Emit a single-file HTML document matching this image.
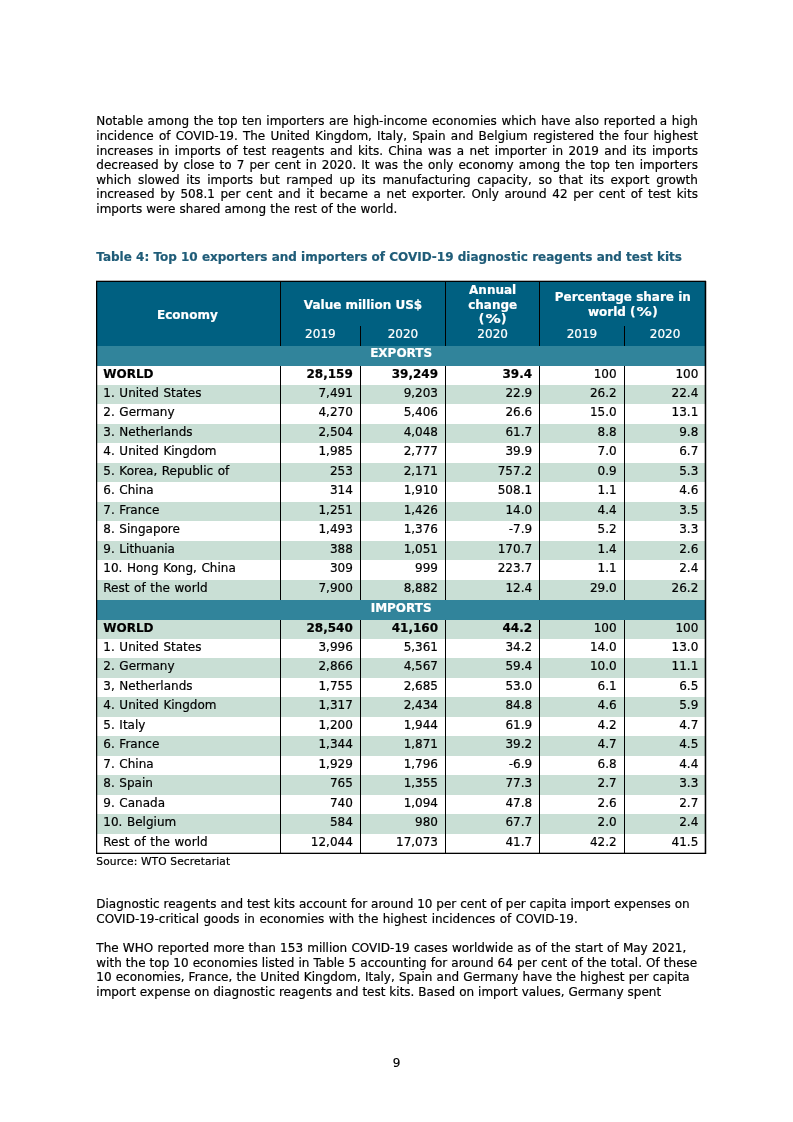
<!DOCTYPE html>
<html lang="en">
<head>
<meta charset="utf-8">
<title>Table 4: Top 10 exporters and importers of COVID-19 diagnostic reagents and test kits</title>
<style>
html,body{margin:0;padding:0;background:#fff;}
body{width:793px;height:1122px;position:relative;overflow:hidden;-webkit-text-stroke:0.2px;font-family:"DejaVu Sans", "Liberation Sans", sans-serif;font-size:12px;color:#000;}
.l{position:absolute;white-space:nowrap;line-height:14px;height:14px;text-align:justify;text-align-last:justify;}
.t{position:absolute;white-space:nowrap;line-height:14px;height:14px;}
.b{font-weight:bold;}
.r{text-align:right;}
.c{text-align:center;}
.w{color:#fff;}
.pc{display:inline-block;transform:scaleX(1.27);margin:0 2.3px;}
.bg{position:absolute;}
.vl{position:absolute;background:#000;}

</style>
</head>
<body>
<div class="para">
<div class="l" style="left:96.30px;top:114.00px;width:601.60px;">Notable among the top ten importers are high-income economies which have also reported a high</div>
<div class="l" style="left:96.30px;top:129.00px;width:601.60px;">incidence of COVID-19. The United Kingdom, Italy, Spain and Belgium registered the four highest</div>
<div class="l" style="left:96.30px;top:144.00px;width:601.60px;">increases in imports of test reagents and kits. China was a net importer in 2019 and its imports</div>
<div class="l" style="left:96.30px;top:158.00px;width:601.60px;">decreased by close to 7 per cent in 2020. It was the only economy among the top ten importers</div>
<div class="l" style="left:96.30px;top:173.00px;width:601.60px;">which slowed its imports but ramped up its manufacturing capacity, so that its export growth</div>
<div class="l" style="left:96.30px;top:187.00px;width:601.60px;">increased by 508.1 per cent and it became a net exporter. Only around 42 per cent of test kits</div>
<div class="l" style="left:96.30px;top:202.00px;width:301.00px;">imports were shared among the rest of the world.</div>
</div>
<div class="l b" style="left:96.30px;top:250.00px;width:585.70px;color:#1f5c78;">Table 4: Top 10 exporters and importers of COVID-19 diagnostic reagents and test kits</div>
<div class="table" role="table" aria-label="Table 4">
<div class="bg" style="left:96.40px;top:281.50px;width:609.50px;height:64.50px;background:#006081"></div>
<div class="bg" style="left:96.40px;top:346.00px;width:609.50px;height:20.00px;background:#31849b"></div>
<div class="bg" style="left:96.40px;top:600.00px;width:609.50px;height:20.00px;background:#31849b"></div>
<div class="bg" style="left:96.40px;top:620.00px;width:609.50px;height:19.00px;background:#c9dfd5"></div>
<div class="bg" style="left:96.40px;top:385.00px;width:609.50px;height:19.00px;background:#c9dfd5"></div>
<div class="bg" style="left:96.40px;top:658.00px;width:609.50px;height:20.00px;background:#c9dfd5"></div>
<div class="bg" style="left:96.40px;top:424.00px;width:609.50px;height:19.00px;background:#c9dfd5"></div>
<div class="bg" style="left:96.40px;top:697.00px;width:609.50px;height:20.00px;background:#c9dfd5"></div>
<div class="bg" style="left:96.40px;top:463.00px;width:609.50px;height:19.00px;background:#c9dfd5"></div>
<div class="bg" style="left:96.40px;top:736.00px;width:609.50px;height:20.00px;background:#c9dfd5"></div>
<div class="bg" style="left:96.40px;top:502.00px;width:609.50px;height:19.00px;background:#c9dfd5"></div>
<div class="bg" style="left:96.40px;top:775.00px;width:609.50px;height:20.00px;background:#c9dfd5"></div>
<div class="bg" style="left:96.40px;top:541.00px;width:609.50px;height:19.00px;background:#c9dfd5"></div>
<div class="bg" style="left:96.40px;top:814.00px;width:609.50px;height:20.00px;background:#c9dfd5"></div>
<div class="bg" style="left:96.40px;top:580.00px;width:609.50px;height:20.00px;background:#c9dfd5"></div>
<div class="bg" style="left:96px;top:281px;width:610px;height:1px;background:#000"></div>
<div class="bg" style="left:96px;top:280px;width:610px;height:1px;background:rgba(0,0,0,0.30)"></div>
<div class="bg" style="left:96px;top:853px;width:610px;height:1px;background:#000"></div>
<div class="bg" style="left:96px;top:852px;width:610px;height:1px;background:rgba(0,0,0,0.30)"></div>
<div class="bg" style="left:96px;top:281px;width:1px;height:573px;background:#000"></div>
<div class="bg" style="left:97px;top:282px;width:1px;height:571px;background:rgba(0,0,0,0.25)"></div>
<div class="bg" style="left:705px;top:281px;width:1px;height:573px;background:#000"></div>
<div class="bg" style="left:704px;top:282px;width:1px;height:571px;background:rgba(0,0,0,0.30)"></div>
<div class="bg" style="left:706px;top:281px;width:1px;height:573px;background:rgba(0,0,0,0.25)"></div>
<div class="bg" style="left:280px;top:282px;width:1px;height:64px;background:#000"></div>
<div class="bg" style="left:445px;top:282px;width:1px;height:64px;background:#000"></div>
<div class="bg" style="left:539px;top:282px;width:1px;height:64px;background:#000"></div>
<div class="bg" style="left:360px;top:326px;width:1px;height:20px;background:#000"></div>
<div class="bg" style="left:624px;top:326px;width:1px;height:20px;background:#000"></div>
<div class="bg" style="left:280px;top:366px;width:1px;height:234px;background:#000"></div>
<div class="bg" style="left:280px;top:620px;width:1px;height:233px;background:#000"></div>
<div class="bg" style="left:360px;top:366px;width:1px;height:234px;background:#000"></div>
<div class="bg" style="left:360px;top:620px;width:1px;height:233px;background:#000"></div>
<div class="bg" style="left:445px;top:366px;width:1px;height:234px;background:#000"></div>
<div class="bg" style="left:445px;top:620px;width:1px;height:233px;background:#000"></div>
<div class="bg" style="left:539px;top:366px;width:1px;height:234px;background:#000"></div>
<div class="bg" style="left:539px;top:620px;width:1px;height:233px;background:#000"></div>
<div class="bg" style="left:624px;top:366px;width:1px;height:234px;background:#000"></div>
<div class="bg" style="left:624px;top:620px;width:1px;height:233px;background:#000"></div>
<div class="t c b w" style="left:95.40px;top:308.00px;width:184.00px">Economy</div>
<div class="t c b w" style="left:280.40px;top:298.00px;width:165.20px">Value million US$</div>
<div class="t c b w" style="left:445.60px;top:283.00px;width:94.10px">Annual</div>
<div class="t c b w" style="left:445.60px;top:298.00px;width:94.10px">change</div>
<div class="t c b w" style="left:445.60px;top:312.00px;width:94.10px">(<span class="pc">%</span>)</div>
<div class="t c b w" style="left:539.70px;top:290.00px;width:166.20px">Percentage share in</div>
<div class="t c b w" style="left:539.70px;top:305.00px;width:166.20px">world (<span class="pc">%</span>)</div>
<div class="t c w" style="left:280.40px;top:327.00px;width:80.00px">2019</div>
<div class="t c w" style="left:360.40px;top:327.00px;width:85.20px">2020</div>
<div class="t c w" style="left:445.60px;top:327.00px;width:94.10px">2020</div>
<div class="t c w" style="left:539.70px;top:327.00px;width:84.50px">2019</div>
<div class="t c w" style="left:624.20px;top:327.00px;width:81.70px">2020</div>
<div class="t c b w" style="left:96.40px;top:346.00px;width:609.50px">EXPORTS</div>
<div class="t c b w" style="left:96.40px;top:601.00px;width:609.50px">IMPORTS</div>
<div class="t b" style="left:103.30px;top:367.00px;word-spacing:0.8px;">WORLD</div>
<div class="t r b" style="left:252.80px;top:367.00px;width:100.00px">28,159</div>
<div class="t r b" style="left:338.00px;top:367.00px;width:100.00px">39,249</div>
<div class="t r b" style="left:432.10px;top:367.00px;width:100.00px">39.4</div>
<div class="t r " style="left:516.60px;top:367.00px;width:100.00px">100</div>
<div class="t r " style="left:598.30px;top:367.00px;width:100.00px">100</div>
<div class="t " style="left:103.30px;top:386.00px;word-spacing:0.8px;">1. United States</div>
<div class="t r " style="left:252.80px;top:386.00px;width:100.00px">7,491</div>
<div class="t r " style="left:338.00px;top:386.00px;width:100.00px">9,203</div>
<div class="t r " style="left:432.10px;top:386.00px;width:100.00px">22.9</div>
<div class="t r " style="left:516.60px;top:386.00px;width:100.00px">26.2</div>
<div class="t r " style="left:598.30px;top:386.00px;width:100.00px">22.4</div>
<div class="t " style="left:103.30px;top:405.00px;word-spacing:0.8px;">2. Germany</div>
<div class="t r " style="left:252.80px;top:405.00px;width:100.00px">4,270</div>
<div class="t r " style="left:338.00px;top:405.00px;width:100.00px">5,406</div>
<div class="t r " style="left:432.10px;top:405.00px;width:100.00px">26.6</div>
<div class="t r " style="left:516.60px;top:405.00px;width:100.00px">15.0</div>
<div class="t r " style="left:598.30px;top:405.00px;width:100.00px">13.1</div>
<div class="t " style="left:103.30px;top:425.00px;word-spacing:0.8px;">3. Netherlands</div>
<div class="t r " style="left:252.80px;top:425.00px;width:100.00px">2,504</div>
<div class="t r " style="left:338.00px;top:425.00px;width:100.00px">4,048</div>
<div class="t r " style="left:432.10px;top:425.00px;width:100.00px">61.7</div>
<div class="t r " style="left:516.60px;top:425.00px;width:100.00px">8.8</div>
<div class="t r " style="left:598.30px;top:425.00px;width:100.00px">9.8</div>
<div class="t " style="left:103.30px;top:444.00px;word-spacing:0.8px;">4. United Kingdom</div>
<div class="t r " style="left:252.80px;top:444.00px;width:100.00px">1,985</div>
<div class="t r " style="left:338.00px;top:444.00px;width:100.00px">2,777</div>
<div class="t r " style="left:432.10px;top:444.00px;width:100.00px">39.9</div>
<div class="t r " style="left:516.60px;top:444.00px;width:100.00px">7.0</div>
<div class="t r " style="left:598.30px;top:444.00px;width:100.00px">6.7</div>
<div class="t " style="left:103.30px;top:464.00px;word-spacing:0.8px;">5. Korea, Republic of</div>
<div class="t r " style="left:252.80px;top:464.00px;width:100.00px">253</div>
<div class="t r " style="left:338.00px;top:464.00px;width:100.00px">2,171</div>
<div class="t r " style="left:432.10px;top:464.00px;width:100.00px">757.2</div>
<div class="t r " style="left:516.60px;top:464.00px;width:100.00px">0.9</div>
<div class="t r " style="left:598.30px;top:464.00px;width:100.00px">5.3</div>
<div class="t " style="left:103.30px;top:483.00px;word-spacing:0.8px;">6. China</div>
<div class="t r " style="left:252.80px;top:483.00px;width:100.00px">314</div>
<div class="t r " style="left:338.00px;top:483.00px;width:100.00px">1,910</div>
<div class="t r " style="left:432.10px;top:483.00px;width:100.00px">508.1</div>
<div class="t r " style="left:516.60px;top:483.00px;width:100.00px">1.1</div>
<div class="t r " style="left:598.30px;top:483.00px;width:100.00px">4.6</div>
<div class="t " style="left:103.30px;top:503.00px;word-spacing:0.8px;">7. France</div>
<div class="t r " style="left:252.80px;top:503.00px;width:100.00px">1,251</div>
<div class="t r " style="left:338.00px;top:503.00px;width:100.00px">1,426</div>
<div class="t r " style="left:432.10px;top:503.00px;width:100.00px">14.0</div>
<div class="t r " style="left:516.60px;top:503.00px;width:100.00px">4.4</div>
<div class="t r " style="left:598.30px;top:503.00px;width:100.00px">3.5</div>
<div class="t " style="left:103.30px;top:522.00px;word-spacing:0.8px;">8. Singapore</div>
<div class="t r " style="left:252.80px;top:522.00px;width:100.00px">1,493</div>
<div class="t r " style="left:338.00px;top:522.00px;width:100.00px">1,376</div>
<div class="t r " style="left:432.10px;top:522.00px;width:100.00px">-7.9</div>
<div class="t r " style="left:516.60px;top:522.00px;width:100.00px">5.2</div>
<div class="t r " style="left:598.30px;top:522.00px;width:100.00px">3.3</div>
<div class="t " style="left:103.30px;top:542.00px;word-spacing:0.8px;">9. Lithuania</div>
<div class="t r " style="left:252.80px;top:542.00px;width:100.00px">388</div>
<div class="t r " style="left:338.00px;top:542.00px;width:100.00px">1,051</div>
<div class="t r " style="left:432.10px;top:542.00px;width:100.00px">170.7</div>
<div class="t r " style="left:516.60px;top:542.00px;width:100.00px">1.4</div>
<div class="t r " style="left:598.30px;top:542.00px;width:100.00px">2.6</div>
<div class="t " style="left:103.30px;top:561.00px;word-spacing:0.8px;">10. Hong Kong, China</div>
<div class="t r " style="left:252.80px;top:561.00px;width:100.00px">309</div>
<div class="t r " style="left:338.00px;top:561.00px;width:100.00px">999</div>
<div class="t r " style="left:432.10px;top:561.00px;width:100.00px">223.7</div>
<div class="t r " style="left:516.60px;top:561.00px;width:100.00px">1.1</div>
<div class="t r " style="left:598.30px;top:561.00px;width:100.00px">2.4</div>
<div class="t " style="left:103.30px;top:581.00px;word-spacing:0.8px;">Rest of the world</div>
<div class="t r " style="left:252.80px;top:581.00px;width:100.00px">7,900</div>
<div class="t r " style="left:338.00px;top:581.00px;width:100.00px">8,882</div>
<div class="t r " style="left:432.10px;top:581.00px;width:100.00px">12.4</div>
<div class="t r " style="left:516.60px;top:581.00px;width:100.00px">29.0</div>
<div class="t r " style="left:598.30px;top:581.00px;width:100.00px">26.2</div>
<div class="t b" style="left:103.30px;top:621.00px;word-spacing:0.8px;">WORLD</div>
<div class="t r b" style="left:252.80px;top:621.00px;width:100.00px">28,540</div>
<div class="t r b" style="left:338.00px;top:621.00px;width:100.00px">41,160</div>
<div class="t r b" style="left:432.10px;top:621.00px;width:100.00px">44.2</div>
<div class="t r " style="left:516.60px;top:621.00px;width:100.00px">100</div>
<div class="t r " style="left:598.30px;top:621.00px;width:100.00px">100</div>
<div class="t " style="left:103.30px;top:640.00px;word-spacing:0.8px;">1. United States</div>
<div class="t r " style="left:252.80px;top:640.00px;width:100.00px">3,996</div>
<div class="t r " style="left:338.00px;top:640.00px;width:100.00px">5,361</div>
<div class="t r " style="left:432.10px;top:640.00px;width:100.00px">34.2</div>
<div class="t r " style="left:516.60px;top:640.00px;width:100.00px">14.0</div>
<div class="t r " style="left:598.30px;top:640.00px;width:100.00px">13.0</div>
<div class="t " style="left:103.30px;top:659.00px;word-spacing:0.8px;">2. Germany</div>
<div class="t r " style="left:252.80px;top:659.00px;width:100.00px">2,866</div>
<div class="t r " style="left:338.00px;top:659.00px;width:100.00px">4,567</div>
<div class="t r " style="left:432.10px;top:659.00px;width:100.00px">59.4</div>
<div class="t r " style="left:516.60px;top:659.00px;width:100.00px">10.0</div>
<div class="t r " style="left:598.30px;top:659.00px;width:100.00px">11.1</div>
<div class="t " style="left:103.30px;top:679.00px;word-spacing:0.8px;">3, Netherlands</div>
<div class="t r " style="left:252.80px;top:679.00px;width:100.00px">1,755</div>
<div class="t r " style="left:338.00px;top:679.00px;width:100.00px">2,685</div>
<div class="t r " style="left:432.10px;top:679.00px;width:100.00px">53.0</div>
<div class="t r " style="left:516.60px;top:679.00px;width:100.00px">6.1</div>
<div class="t r " style="left:598.30px;top:679.00px;width:100.00px">6.5</div>
<div class="t " style="left:103.30px;top:698.00px;word-spacing:0.8px;">4. United Kingdom</div>
<div class="t r " style="left:252.80px;top:698.00px;width:100.00px">1,317</div>
<div class="t r " style="left:338.00px;top:698.00px;width:100.00px">2,434</div>
<div class="t r " style="left:432.10px;top:698.00px;width:100.00px">84.8</div>
<div class="t r " style="left:516.60px;top:698.00px;width:100.00px">4.6</div>
<div class="t r " style="left:598.30px;top:698.00px;width:100.00px">5.9</div>
<div class="t " style="left:103.30px;top:718.00px;word-spacing:0.8px;">5. Italy</div>
<div class="t r " style="left:252.80px;top:718.00px;width:100.00px">1,200</div>
<div class="t r " style="left:338.00px;top:718.00px;width:100.00px">1,944</div>
<div class="t r " style="left:432.10px;top:718.00px;width:100.00px">61.9</div>
<div class="t r " style="left:516.60px;top:718.00px;width:100.00px">4.2</div>
<div class="t r " style="left:598.30px;top:718.00px;width:100.00px">4.7</div>
<div class="t " style="left:103.30px;top:737.00px;word-spacing:0.8px;">6. France</div>
<div class="t r " style="left:252.80px;top:737.00px;width:100.00px">1,344</div>
<div class="t r " style="left:338.00px;top:737.00px;width:100.00px">1,871</div>
<div class="t r " style="left:432.10px;top:737.00px;width:100.00px">39.2</div>
<div class="t r " style="left:516.60px;top:737.00px;width:100.00px">4.7</div>
<div class="t r " style="left:598.30px;top:737.00px;width:100.00px">4.5</div>
<div class="t " style="left:103.30px;top:757.00px;word-spacing:0.8px;">7. China</div>
<div class="t r " style="left:252.80px;top:757.00px;width:100.00px">1,929</div>
<div class="t r " style="left:338.00px;top:757.00px;width:100.00px">1,796</div>
<div class="t r " style="left:432.10px;top:757.00px;width:100.00px">-6.9</div>
<div class="t r " style="left:516.60px;top:757.00px;width:100.00px">6.8</div>
<div class="t r " style="left:598.30px;top:757.00px;width:100.00px">4.4</div>
<div class="t " style="left:103.30px;top:776.00px;word-spacing:0.8px;">8. Spain</div>
<div class="t r " style="left:252.80px;top:776.00px;width:100.00px">765</div>
<div class="t r " style="left:338.00px;top:776.00px;width:100.00px">1,355</div>
<div class="t r " style="left:432.10px;top:776.00px;width:100.00px">77.3</div>
<div class="t r " style="left:516.60px;top:776.00px;width:100.00px">2.7</div>
<div class="t r " style="left:598.30px;top:776.00px;width:100.00px">3.3</div>
<div class="t " style="left:103.30px;top:796.00px;word-spacing:0.8px;">9. Canada</div>
<div class="t r " style="left:252.80px;top:796.00px;width:100.00px">740</div>
<div class="t r " style="left:338.00px;top:796.00px;width:100.00px">1,094</div>
<div class="t r " style="left:432.10px;top:796.00px;width:100.00px">47.8</div>
<div class="t r " style="left:516.60px;top:796.00px;width:100.00px">2.6</div>
<div class="t r " style="left:598.30px;top:796.00px;width:100.00px">2.7</div>
<div class="t " style="left:103.30px;top:815.00px;word-spacing:0.8px;">10. Belgium</div>
<div class="t r " style="left:252.80px;top:815.00px;width:100.00px">584</div>
<div class="t r " style="left:338.00px;top:815.00px;width:100.00px">980</div>
<div class="t r " style="left:432.10px;top:815.00px;width:100.00px">67.7</div>
<div class="t r " style="left:516.60px;top:815.00px;width:100.00px">2.0</div>
<div class="t r " style="left:598.30px;top:815.00px;width:100.00px">2.4</div>
<div class="t " style="left:103.30px;top:835.00px;word-spacing:0.8px;">Rest of the world</div>
<div class="t r " style="left:252.80px;top:835.00px;width:100.00px">12,044</div>
<div class="t r " style="left:338.00px;top:835.00px;width:100.00px">17,073</div>
<div class="t r " style="left:432.10px;top:835.00px;width:100.00px">41.7</div>
<div class="t r " style="left:516.60px;top:835.00px;width:100.00px">42.2</div>
<div class="t r " style="left:598.30px;top:835.00px;width:100.00px">41.5</div>
</div>
<div class="t " style="left:96.30px;top:855.00px;font-size:10.67px;letter-spacing:0.13px;">Source: WTO Secretariat</div>
<div class="para">
<div class="l" style="left:96.30px;top:897.00px;width:593.30px;">Diagnostic reagents and test kits account for around 10 per cent of per capita import expenses on</div>
<div class="l" style="left:96.30px;top:912.00px;width:481.50px;">COVID-19-critical goods in economies with the highest incidences of COVID-19.</div>
</div>
<div class="para">
<div class="l" style="left:96.30px;top:941.00px;width:590.00px;">The WHO reported more than 153 million COVID-19 cases worldwide as of the start of May 2021,</div>
<div class="l" style="left:96.30px;top:956.00px;width:600.90px;">with the top 10 economies listed in Table 5 accounting for around 64 per cent of the total. Of these</div>
<div class="l" style="left:96.30px;top:970.00px;width:593.40px;">10 economies, France, the United Kingdom, Italy, Spain and Germany have the highest per capita</div>
<div class="l" style="left:96.30px;top:985.00px;width:564.80px;">import expense on diagnostic reagents and test kits. Based on import values, Germany spent</div>
</div>
<div class="t c " style="left:386.50px;top:1056.00px;width:20.00px">9</div>
</body>
</html>
